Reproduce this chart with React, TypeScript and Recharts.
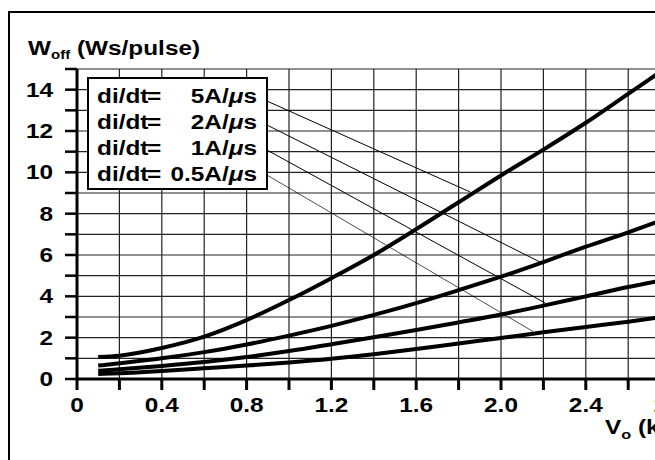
import React from 'react';
import { LineChart, Line, XAxis, YAxis, CartesianGrid, ReferenceLine, Legend } from 'recharts';

// ---- data ----
const vo = [0.1, 0.2, 0.4, 0.6, 0.8, 1.0, 1.2, 1.4, 1.6, 1.8, 2.0, 2.2, 2.4, 2.6, 2.8];
const w5 = [1.06, 1.13, 1.5, 2.05, 2.85, 3.82, 4.88, 6.0, 7.25, 8.55, 9.85, 11.1, 12.4, 13.8, 15.2];
const w2 = [0.65, 0.76, 1.0, 1.3, 1.67, 2.1, 2.57, 3.1, 3.67, 4.3, 4.95, 5.66, 6.4, 7.1, 7.85];
const w1 = [0.4, 0.47, 0.63, 0.82, 1.06, 1.35, 1.68, 2.02, 2.37, 2.74, 3.12, 3.55, 4.0, 4.45, 4.85];
const w05 = [0.24, 0.28, 0.39, 0.52, 0.65, 0.8, 0.98, 1.2, 1.45, 1.72, 1.98, 2.26, 2.52, 2.77, 3.05];

const rateValues = ['5', '2', '1', '0.5'];
const leaderStart = [
  { x: 0.896, y: 13.45 },
  { x: 0.896, y: 12.29 },
  { x: 0.896, y: 11.08 },
  { x: 0.896, y: 9.87 },
];
const leaderEnd = [
  { x: 1.854, y: 9.05 },
  { x: 2.184, y: 5.66 },
  { x: 2.208, y: 3.68 },
  { x: 2.151, y: 2.3 },
];
const leaderWidths = [1, 1, 1, 0.7];

const xTicks = [0, 0.2, 0.4, 0.6, 0.8, 1.0, 1.2, 1.4, 1.6, 1.8, 2.0, 2.2, 2.4, 2.6, 2.8, 3.0];
const yTicks = [0, 1, 2, 3, 4, 5, 6, 7, 8, 9, 10, 11, 12, 13, 14, 15];

const data = vo.map((v, i) => ({ vo: v, w5: w5[i], w2: w2[i], w1: w1[i], w05: w05[i] }));

// ---- styling ----
const FONT = '"Liberation Sans", Arial, Helvetica, sans-serif';
const FS = 19.5;
const SX = 1.25;

const txt = (x: number, y: number, anchor: string, children: React.ReactNode, fs = FS) => (
  <text
    transform={`translate(${x},${y}) scale(${SX},1)`}
    textAnchor={anchor as any}
    fontFamily={FONT}
    fontWeight="bold"
    fontSize={fs}
    fill="#000"
  >
    {children}
  </text>
);

const XTick = (props: any) => {
  const { x, y, payload } = props;
  const v = payload.value;
  const k = Math.round(v * 10);
  if (k % 4 !== 0) return <g />;
  const label = v === 0 ? '0' : v.toFixed(1);
  return txt(x, y + 20, 'middle', label);
};

const YTick = (props: any) => {
  const { x, y, payload } = props;
  const v = payload.value;
  if (v % 2 !== 0) return <g />;
  return txt(x - 10, y + 7, 'end', String(v));
};

const YTitle = () => (
  <text
    transform={`translate(28,55) scale(${SX},1)`}
    fontFamily={FONT}
    fontWeight="bold"
    fontSize={FS}
    fill="#000"
  >
    W
    <tspan fontSize={12} dy={4}>off</tspan>
    <tspan dy={-4}>{' (Ws/pulse)'}</tspan>
  </text>
);

const XTitle = () => (
  <text
    transform={`translate(605,434) scale(${SX},1)`}
    fontFamily={FONT}
    fontWeight="bold"
    fontSize={FS}
    fill="#000"
  >
    V
    <tspan fontSize={13} dy={5}>o</tspan>
    <tspan dy={-5}>{' (kV)'}</tspan>
  </text>
);

const LegendBox = () => (
  <svg width={182} height={114} style={{ display: 'block' }}>
    <rect x={1} y={1} width={179} height={111} fill="#fff" stroke="#000" strokeWidth={2} />
    {rateValues.map((r, i) => (
      <g key={i}>
        {txt(10, 26 + i * 26, 'start', 'di/dt')}
        {txt(60, 26 + i * 26, 'start', '=')}
        {txt(170, 26 + i * 26, 'end', (
          <>
            {r}A/<tspan fontStyle="italic">μ</tspan>s
          </>
        ))}
      </g>
    ))}
  </svg>
);

export default function App() {
  return (
    <div
      style={{
        position: 'fixed',
        left: 0,
        top: 0,
        width: 655,
        height: 460,
        overflow: 'hidden',
        background: '#fff',
      }}
    >
      <div
        style={{
          position: 'absolute',
          left: 8,
          top: 11,
          width: 900,
          height: 700,
          border: '2px solid #000',
          boxSizing: 'border-box',
        }}
      />
      <div style={{ position: 'absolute', left: 0, top: 0 }}>
        <LineChart
          width={760}
          height={460}
          data={data}
          margin={{ top: 69, right: 47, bottom: 51, left: 0 }}
        >
          <CartesianGrid stroke="#222" strokeWidth={1.2} />
          <XAxis
            dataKey="vo"
            type="number"
            domain={[0, 3.0]}
            ticks={xTicks}
            interval={0}
            height={30}
            tick={<XTick />}
            tickSize={11}
            tickLine={{ stroke: '#000', strokeWidth: 3 }}
            axisLine={{ stroke: '#000', strokeWidth: 3 }}
            label={<XTitle />}
          />
          <YAxis
            type="number"
            domain={[0, 15]}
            ticks={yTicks}
            interval={0}
            width={77}
            allowDataOverflow
            tick={<YTick />}
            tickSize={12}
            tickLine={{ stroke: '#000', strokeWidth: 2.5 }}
            axisLine={{ stroke: '#000', strokeWidth: 3 }}
            label={<YTitle />}
          />
          {leaderStart.map((s, i) => (
            <ReferenceLine
              key={i}
              segment={[s, leaderEnd[i]]}
              stroke="#000"
              strokeWidth={leaderWidths[i]}
              ifOverflow="visible"
            />
          ))}
          <Line dataKey="w5" type="monotone" stroke="#000" strokeWidth={4} dot={false} isAnimationActive={false} />
          <Line dataKey="w2" type="monotone" stroke="#000" strokeWidth={4} dot={false} isAnimationActive={false} />
          <Line dataKey="w1" type="monotone" stroke="#000" strokeWidth={4} dot={false} isAnimationActive={false} />
          <Line dataKey="w05" type="monotone" stroke="#000" strokeWidth={4} dot={false} isAnimationActive={false} />
          <Legend
            layout="vertical"
            align="center"
            verticalAlign="middle"
            content={<LegendBox />}
            wrapperStyle={{ left: 87, top: 77, width: 182, height: 114 }}
          />
        </LineChart>
      </div>
    </div>
  );
}
